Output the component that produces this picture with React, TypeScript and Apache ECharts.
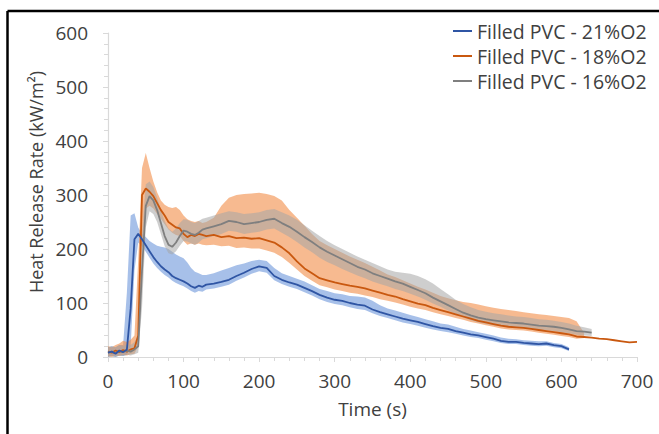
import React, { useEffect, useRef } from "react";
import * as echarts from "echarts";

// Time grid (s)
const time = [0,5,10,15,20,25,30,35,40,45,50,55,60,65,70,75,80,85,90,95,100,105,110,115,120,125,130,
  140,150,160,170,180,190,200,210,220,230,240,250,260,270,280,290,300,310,320,330,340,350,360,370,380,390,400,
  410,420,430,440,450,460,470,480,490,500,510,520,530,540,550,560,570,580,590,600,610,620,630,640,650,660,670,680,690,700];

const seriesNames = ["Filled PVC - 21%O2", "Filled PVC - 18%O2", "Filled PVC - 16%O2"];

// 21% O2
const blueMean = [8,10,6,12,9,14,90,218,228,218,207,196,185,176,168,162,157,150,146,143,140,136,131,128,132,130,134,
  136,139,143,150,156,163,168,165,150,143,138,134,128,122,115,110,106,104,100,97,95,88,83,79,75,71,68,65,61,57,54,52,48,45,42,40,37,34,30,28,28,26,25,24,25,22,20,14];
const blueHigh = [18,20,18,22,22,120,262,266,240,228,222,215,210,206,204,203,200,195,190,186,183,175,165,158,155,152,152,
  155,160,165,170,173,178,180,178,165,155,150,145,140,133,126,122,118,116,113,112,110,104,96,90,86,82,78,74,70,66,62,60,56,52,49,46,43,40,36,34,33,31,30,29,29,26,24,18];
const blueLow = [0,2,0,3,2,4,20,160,212,205,195,184,173,165,158,152,147,141,137,134,131,127,122,119,122,121,125,
  127,130,134,141,147,154,159,156,142,135,130,126,120,114,107,102,98,96,92,89,87,81,76,72,68,64,61,58,54,51,48,46,43,40,37,35,32,29,26,24,24,22,21,20,21,18,16,11];

// 18% O2
const orangeMean = [10,8,12,9,13,10,14,16,40,300,312,306,298,285,272,262,250,245,240,238,228,222,226,224,228,226,224,
  226,222,224,220,221,219,220,216,212,203,192,177,164,155,146,142,138,135,132,130,127,123,119,115,112,107,103,99,96,91,87,83,79,75,71,67,64,61,58,56,55,54,52,50,48,46,44,42,38,37,36,34,33,31,29,27,28];
const orangeHigh = [20,18,22,25,30,28,32,40,180,350,378,350,325,305,290,282,278,276,278,272,262,255,252,250,252,248,250,
  258,280,295,300,302,303,304,302,298,290,272,258,243,228,215,207,200,193,186,180,174,167,160,153,148,142,136,130,125,119,113,109,105,102,100,97,94,91,89,87,85,83,81,79,78,76,74,72,66,45];
const orangeLow = [2,0,3,2,4,3,5,6,20,200,275,280,275,265,256,246,236,230,226,224,215,208,210,208,210,208,207,
  208,205,206,202,203,201,201,197,193,185,174,162,150,141,133,129,125,122,119,117,114,111,107,104,101,97,93,90,87,83,79,76,72,69,65,62,59,56,53,51,50,49,47,45,43,41,39,37,34,35];

// 16% O2
const grayMean = [8,10,7,11,9,12,10,14,20,160,280,298,290,272,248,224,208,204,212,224,234,232,228,226,230,236,238,
  242,246,252,250,246,248,250,254,256,248,241,232,222,213,203,195,188,181,174,167,162,155,150,145,140,136,130,124,118,110,103,96,89,82,77,73,70,68,66,64,63,62,60,58,57,56,54,51,48,47,45];
const grayHigh = [18,20,18,22,20,24,22,28,40,230,320,325,315,295,272,252,238,232,238,248,255,254,250,248,252,256,258,
  262,266,270,268,265,266,268,272,274,268,262,254,244,234,224,215,207,200,193,186,180,174,168,162,158,156,154,150,144,136,126,116,106,98,92,87,84,81,79,77,75,74,72,70,69,67,65,62,58,55,52];
const grayLow = [0,2,0,3,2,4,3,5,8,90,240,270,265,250,228,205,192,190,196,206,215,214,210,208,212,218,220,
  224,228,234,232,228,230,232,236,238,230,222,213,203,194,184,176,170,163,157,151,146,140,135,131,126,122,117,112,106,99,93,86,80,73,68,64,61,59,57,56,55,54,52,50,49,48,46,44,41,40,39];

const xTicks = [0, 100, 200, 300, 400, 500, 600, 700];
const yTicks = [0, 100, 200, 300, 400, 500, 600];

const lineColors = ["#2f55a4", "#c9580f", "#7f7f7f"];
const bandColors = ["rgba(95,140,215,0.55)", "rgba(242,140,70,0.6)", "rgba(165,165,165,0.55)"];

function pairs(vals: number[]) {
  return vals.map((v, i) => [time[i], v]);
}

function bandSeries(low: number[], high: number[], color: string) {
  const data = low.map((v, i) => [time[i], v, high[i]]);
  return {
    type: "custom",
    silent: true,
    z: 1,
    encode: { x: 0, y: [1, 2] },
    data,
    renderItem: (params: any, api: any) => {
      if (params.dataIndex !== 0) return null;
      const up = high.map((v, i) => api.coord([time[i], v]));
      const dn = low.map((v, i) => api.coord([time[i], v])).reverse();
      return {
        type: "polygon",
        shape: { points: up.concat(dn) },
        style: { fill: color, stroke: null },
      };
    },
  };
}

export default function App() {
  const ref = useRef<HTMLDivElement>(null);
  useEffect(() => {
    document.body.style.margin = "0";
    if (!ref.current) return;
    const chart = echarts.init(ref.current, undefined, { renderer: "svg" });
    const font = "'Open Sans', 'Noto Sans', sans-serif";
    const txt = "#404040";
    const means = [blueMean, orangeMean, grayMean];
    chart.setOption({
      animation: false,
      textStyle: { fontFamily: font },
      grid: { left: 108, right: 22, top: 33, bottom: 77 },
      legend: {
        orient: "vertical",
        left: 453,
        top: 21,
        padding: 0,
        itemWidth: 19,
        itemHeight: 2,
        itemGap: 5,
        data: seriesNames.map((n) => ({ name: n, icon: "rect" })),
        textStyle: { fontFamily: font, fontSize: 19.5, color: txt, lineHeight: 19.5 },
      },
      xAxis: {
        type: "value",
        min: 0,
        max: 700,
        interval: 100,
        name: "Time (s)",
        nameLocation: "middle",
        nameGap: 42,
        nameTextStyle: { fontFamily: font, fontSize: 19, color: txt },
        axisLine: { show: true, lineStyle: { color: "#d9d9d9", width: 1.2 } },
        axisTick: { show: true, length: 5, lineStyle: { color: "#d9d9d9" } },
        minorTick: { show: true, splitNumber: 5, length: 4, lineStyle: { color: "#d9d9d9" } },
        splitLine: { show: false },
        axisLabel: {
          margin: 14,
          fontSize: 19,
          color: txt,
          fontFamily: font,
          formatter: (v: number) => (xTicks.includes(v) ? String(v) : ""),
        },
      },
      yAxis: {
        type: "value",
        min: 0,
        max: 600,
        interval: 100,
        name: "Heat Release Rate (kW/m²)",
        nameLocation: "middle",
        nameGap: 57,
        nameTextStyle: { fontFamily: font, fontSize: 18, color: txt, padding: [0, 0, 0, 26] },
        axisLine: { show: true, lineStyle: { color: "#d9d9d9", width: 1.2 } },
        axisTick: { show: true, length: 5, lineStyle: { color: "#d9d9d9" } },
        minorTick: { show: true, splitNumber: 5, length: 4, lineStyle: { color: "#d9d9d9" } },
        splitLine: { show: false },
        axisLabel: {
          margin: 20,
          fontSize: 19,
          color: txt,
          fontFamily: font,
          formatter: (v: number) => (yTicks.includes(v) ? String(v) : ""),
        },
      },
      graphic: [
        { type: "line", shape: { x1: 7.5, y1: 11, x2: 659, y2: 11 }, style: { stroke: "#000", lineWidth: 2.5 } },
        { type: "line", shape: { x1: 7.5, y1: 11, x2: 7.5, y2: 434 }, style: { stroke: "#000", lineWidth: 2.5 } },
      ],
      series: [
        bandSeries(blueLow, blueHigh, bandColors[0]),
        bandSeries(orangeLow, orangeHigh, bandColors[1]),
        bandSeries(grayLow, grayHigh, bandColors[2]),
        ...[1, 2, 0].map((k) => ({
          name: seriesNames[k],
          type: "line",
          data: pairs(means[k]),
          showSymbol: false,
          symbol: "none",
          z: 3,
          color: lineColors[k],
          lineStyle: { color: lineColors[k], width: 1.8 },
        })),
      ],
    });
    return () => chart.dispose();
  }, []);
  return <div ref={ref} style={{ width: 659, height: 434 }} />;
}
